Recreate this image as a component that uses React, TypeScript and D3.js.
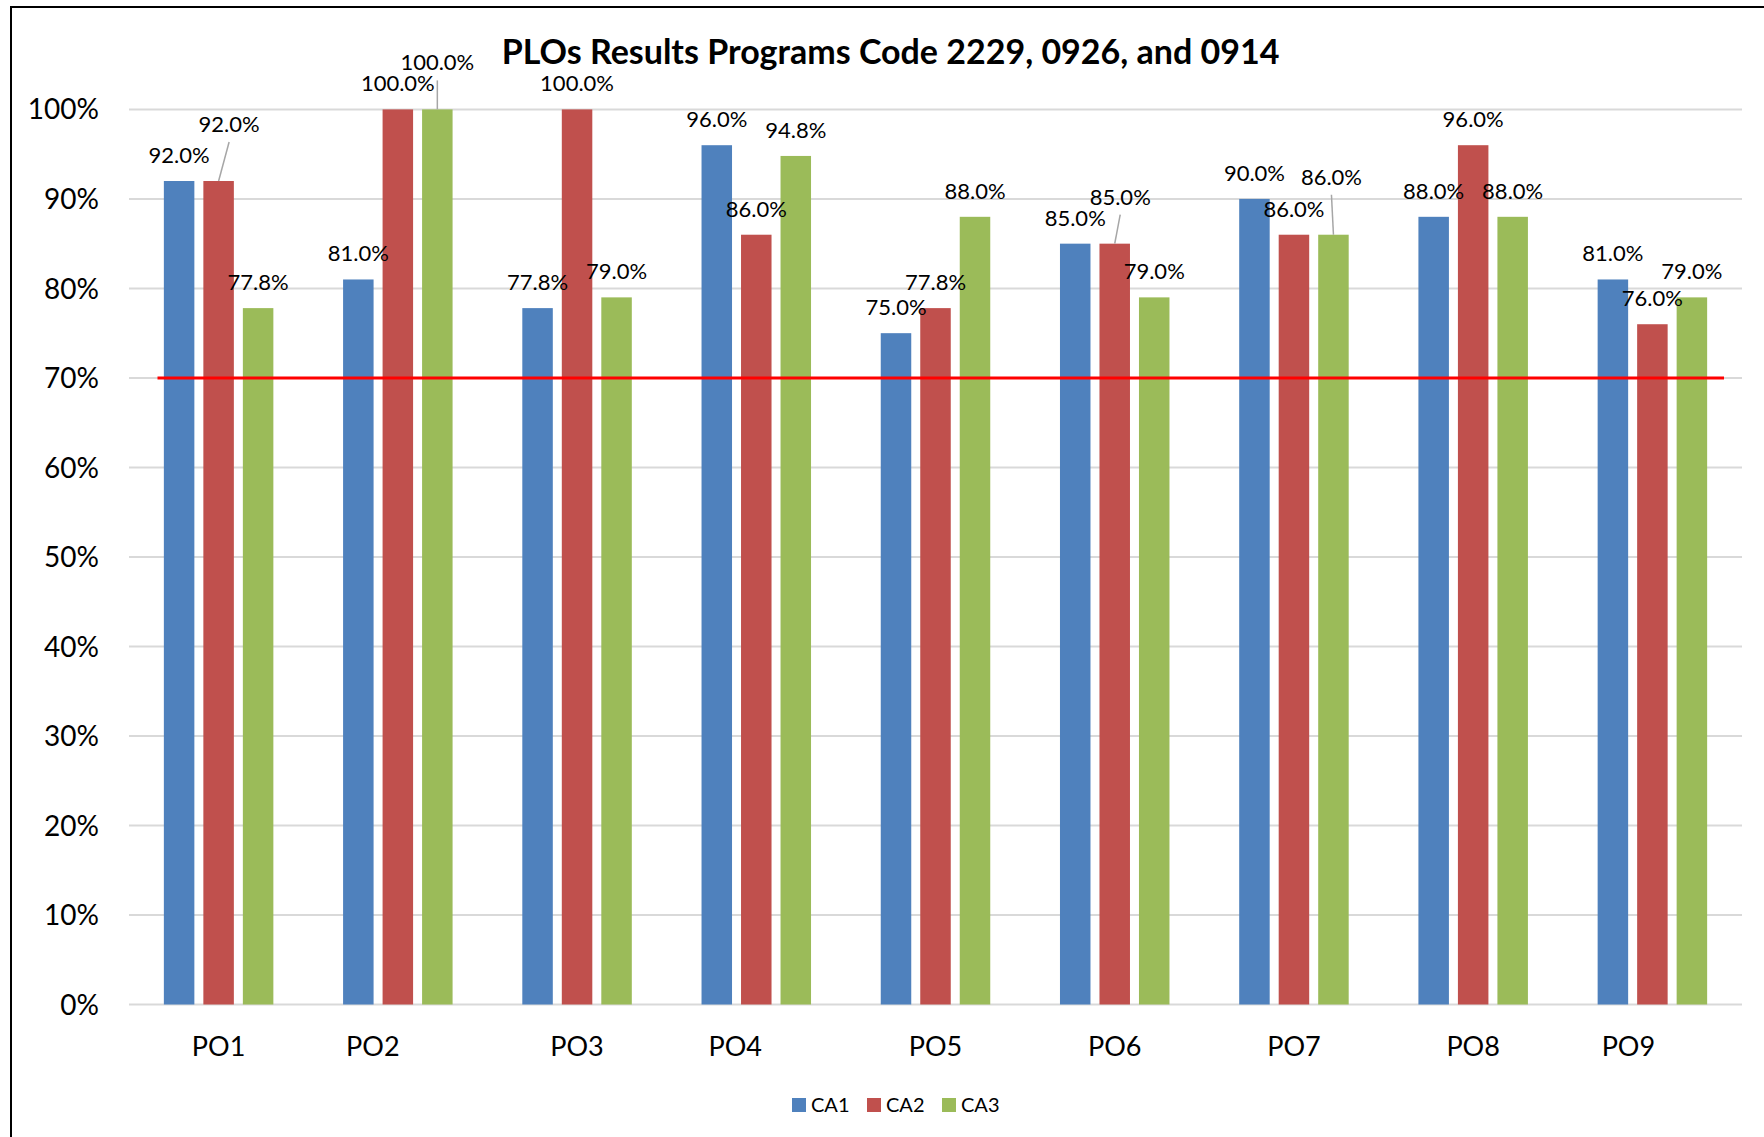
import React from "react";
import * as d3 from "d3";

const categories = ["PO1", "PO2", "PO3", "PO4", "PO5", "PO6", "PO7", "PO8", "PO9"];
const seriesNames = ["CA1", "CA2", "CA3"];
const ca1 = [92, 81, 77.8, 96, 75, 85, 90, 88, 81];
const ca2 = [92, 100, 100, 86, 77.8, 85, 86, 96, 76];
const ca3 = [77.8, 100, 79, 94.8, 88, 79, 86, 88, 79];
const yTicks = [0, 10, 20, 30, 40, 50, 60, 70, 80, 90, 100];
const targetValue = 70;
const title = "PLOs Results Programs Code 2229, 0926, and 0914";

// layout / style (not data)
const W = 1764;
const H = 1137;
const colors = ["#4f81bd", "#c0504d", "#9bbb59"];
const plot = { left: 129, right: 1742, top: 109.4, bottom: 1004.5 };
const FONT = "Lato, Carlito, Calibri, 'Open Sans', sans-serif";
// category label horizontal shifts (as in the source)
const catShift = [0, -25, 0, -21, 0, 0, 0, 0, -24];
// manually moved data labels: key "cat-series" -> offset of label centre
const labelMoves: Record<string, { dx: number; dy: number }> = {
  "0-1": { dx: 10.5, dy: -31 },
  "1-2": { dx: 0, dy: -21 },
  "5-1": { dx: 5.5, dy: -21 },
  "6-2": { dx: -2, dy: -32 },
};

export default function App() {
  const values = [ca1, ca2, ca3];
  const x0 = d3.scaleBand<string>().domain(categories).range([plot.left, plot.right]).padding(0);
  const step = 39.5;
  const barW = 30.5;
  const pi = 1 - barW / step;
  const x1 = d3
    .scaleBand<string>()
    .domain(seriesNames)
    .range([-1.5 * step, 1.5 * step])
    .paddingInner(pi)
    .paddingOuter(pi / 2);
  const y = d3.scaleLinear().domain([0, 100]).range([plot.bottom, plot.top]);
  const fmt = (v: number) => d3.format(".1f")(v) + "%";

  const bars: React.ReactNode[] = [];
  const labels: React.ReactNode[] = [];
  categories.forEach((c, ci) => {
    const gc = (x0(c) as number) + x0.bandwidth() / 2;
    seriesNames.forEach((s, si) => {
      const v = values[si][ci];
      const bx = gc + (x1(s) as number);
      const top = y(v);
      bars.push(
        <rect key={`b${ci}-${si}`} x={bx} y={top} width={x1.bandwidth()} height={plot.bottom - top} fill={colors[si]} />
      );
      const bc = bx + x1.bandwidth() / 2;
      const mv = labelMoves[`${ci}-${si}`];
      const cx = bc + (mv ? mv.dx : 0);
      const cy = top - 26 + (mv ? mv.dy : 0);
      if (mv) {
        labels.push(
          <line key={`l${ci}-${si}`} x1={cx} y1={cy + 18} x2={bc} y2={top} stroke="#a6a6a6" strokeWidth={1.5} />
        );
      }
      labels.push(
        <text key={`t${ci}-${si}`} x={cx} y={cy + 8} textAnchor="middle" fontSize={22} fill="#000">
          {fmt(v)}
        </text>
      );
    });
  });

  const legendX = [792, 867, 942];

  return (
    <svg
      width={W}
      height={H}
      style={{ position: "absolute", left: 0, top: 0, background: "#fff" }}
      fontFamily={FONT}
    >
      <rect x={0} y={0} width={W} height={H} fill="#fff" />
      <rect x={11} y={7} width={W + 100} height={H + 100} fill="none" stroke="#000" strokeWidth={2} />
      <text x={890.5} y={64} textAnchor="middle" fontSize={34} fontWeight="bold" fill="#000">
        {title}
      </text>
      {yTicks.map((t) => (
        <g key={t}>
          <line x1={plot.left} x2={plot.right} y1={y(t)} y2={y(t)} stroke="#d9d9d9" strokeWidth={2} />
          <text x={99} y={y(t)} dy="0.36em" textAnchor="end" fontSize={28} fill="#000">
            {t + "%"}
          </text>
        </g>
      ))}
      {bars}
      <line x1={157.5} x2={1724} y1={y(targetValue)} y2={y(targetValue)} stroke="#ff0000" strokeWidth={3} />
      {labels}
      {categories.map((c, ci) => (
        <text
          key={c}
          x={(x0(c) as number) + x0.bandwidth() / 2 + catShift[ci]}
          y={1056}
          textAnchor="middle"
          fontSize={27}
          fill="#000"
        >
          {c}
        </text>
      ))}
      {seriesNames.map((s, si) => (
        <g key={s}>
          <rect x={legendX[si]} y={1098} width={14} height={14} fill={colors[si]} />
          <text x={legendX[si] + 19} y={1112} fontSize={20} fill="#000">
            {s}
          </text>
        </g>
      ))}
    </svg>
  );
}
